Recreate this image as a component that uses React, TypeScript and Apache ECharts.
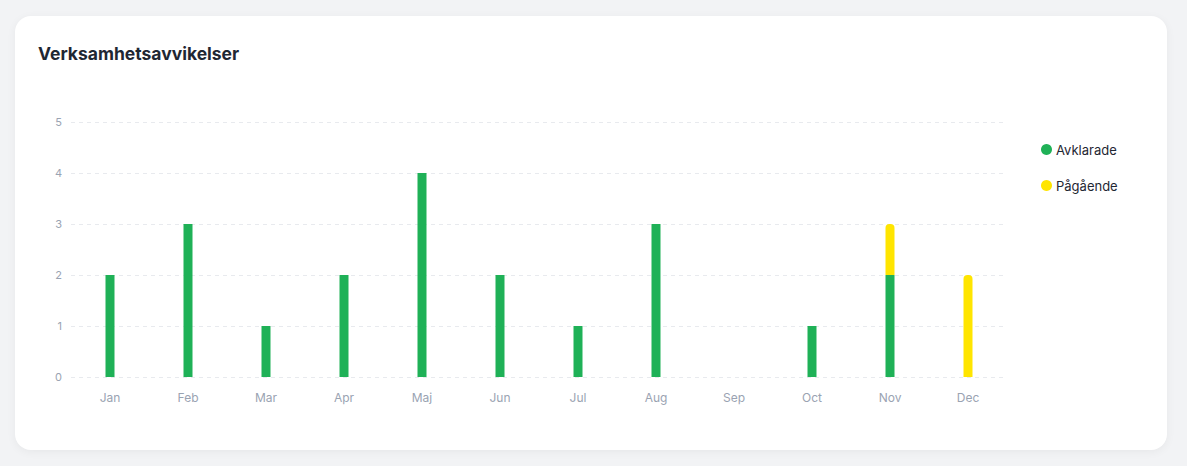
import React, { useEffect, useRef } from "react";
import * as echarts from "echarts";

const months = ["Jan", "Feb", "Mar", "Apr", "Maj", "Jun", "Jul", "Aug", "Sep", "Oct", "Nov", "Dec"];
const avklarade = [2, 3, 1, 2, 4, 2, 1, 3, 0, 1, 2, 0];
const pagaende = [0, 0, 0, 0, 0, 0, 0, 0, 0, 0, 1, 2];
const yTicks = [0, 1, 2, 3, 4, 5];

export default function App() {
  const ref = useRef<HTMLDivElement>(null);
  useEffect(() => {
    document.body.style.margin = "0";
    const chart = echarts.init(ref.current!, undefined, { renderer: "svg" });
    chart.setOption({
      animation: false,
      textStyle: { fontFamily: "Inter, 'Noto Sans', sans-serif" },
      title: {
        text: "Verksamhetsavvikelser",
        left: 33,
        top: 39,
        textStyle: { fontSize: 17.5, fontWeight: 700, color: "#1f2733", fontFamily: "Inter, sans-serif" },
      },
      legend: {
        orient: "vertical",
        left: 1036,
        top: 138,
        itemGap: 23,
        itemWidth: 11,
        itemHeight: 11,
        icon: "circle",
        textStyle: { fontSize: 13, color: "#1f2733", padding: [0, 0, 0, -1] },
        data: ["Avklarade", "Pågående"],
      },
      grid: { left: 71, right: 180, top: 122, bottom: 89 },
      xAxis: {
        type: "category",
        data: months,
        axisLine: { show: false },
        axisTick: { show: false },
        axisLabel: { color: "#9aa3b2", fontSize: 12, margin: 14 },
      },
      yAxis: {
        type: "value",
        min: yTicks[0],
        max: yTicks[yTicks.length - 1],
        interval: 1,
        axisLine: { show: false },
        axisTick: { show: false },
        axisLabel: { color: "#9aa3b2", fontSize: 11, margin: 9 },
        splitLine: { lineStyle: { type: [4, 4], color: "#e8eaee" } },
      },
      series: [
        {
          name: "Avklarade",
          type: "bar",
          stack: "a",
          barWidth: 9,
          data: avklarade,
          itemStyle: { color: "#1fb157" },
        },
        {
          name: "Pågående",
          type: "bar",
          stack: "a",
          barWidth: 9,
          data: pagaende,
          itemStyle: { color: "#ffe500", borderRadius: [4, 4, 0, 0] },
        },
      ],
    });
    return () => chart.dispose();
  }, []);
  return (
    <div style={{ position: "fixed", left: 0, top: 0, width: 1187, height: 466, background: "#f2f3f5" }}>
      <div
        style={{
          position: "absolute",
          left: 15,
          top: 16,
          width: 1152,
          height: 434,
          background: "#ffffff",
          borderRadius: 16,
          boxShadow: "0 2px 10px rgba(0,0,0,0.05)",
        }}
      />
      <div ref={ref} style={{ position: "absolute", left: 0, top: 0, width: 1187, height: 466 }} />
    </div>
  );
}
